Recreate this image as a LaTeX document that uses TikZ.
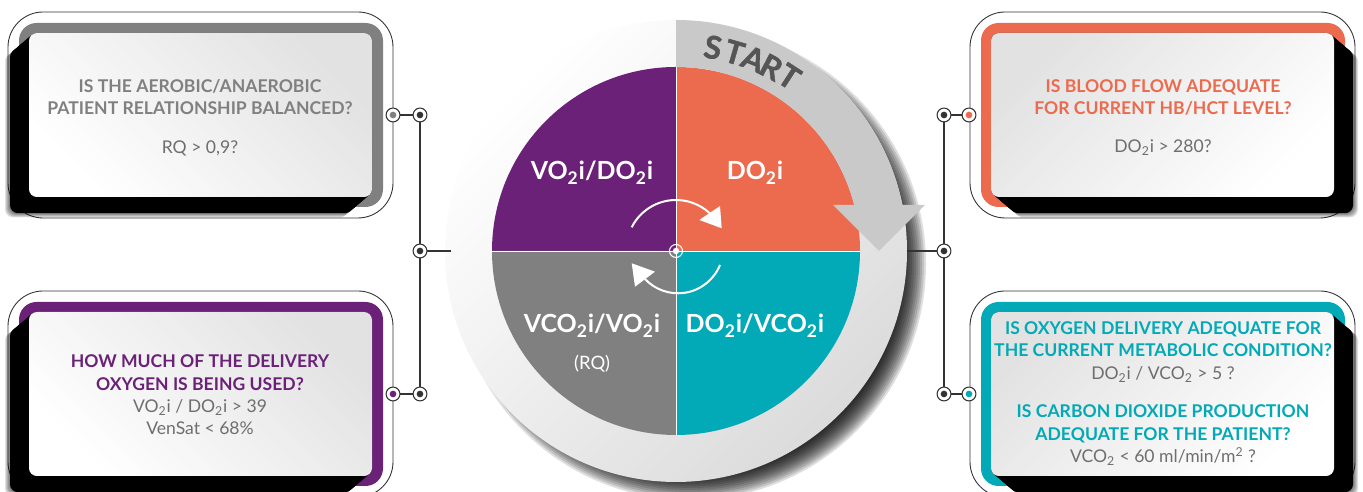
\documentclass[tikz,border=0pt]{standalone}
\usepackage{fontspec}
\setmainfont{Lato}
\usetikzlibrary{arrows.meta}
\definecolor{qpurple}{RGB}{107,33,120}
\definecolor{qorange}{RGB}{236,106,77}
\definecolor{qteal}{RGB}{2,169,182}
\definecolor{qgray}{RGB}{128,128,128}
\definecolor{bandgray}{RGB}{201,201,201}
\definecolor{startgray}{RGB}{85,85,85}
\definecolor{lined}{RGB}{51,51,51}
\definecolor{subgray}{RGB}{110,110,110}
\definecolor{boxshade}{RGB}{226,226,226}
\newcommand\qbox[5]{%
  \fill[white, rounded corners=20pt] (#1,#2) rectangle ++(385,206);
  \draw[lined, line width=0.5pt, rounded corners=20pt] (#1,#2) rectangle ++(385,206);
  \fill[#3, rounded corners=10pt] (#1+11,#2+11) rectangle ++(364,184);
  \foreach \k in {20,...,24} \fill[black, opacity=0.12, rounded corners=4.5pt, shift={(#4*\k,-0.85*\k)}] (#1+21,#2+21) rectangle ++(343,164);
  \foreach \k in {0,...,19} \fill[black, rounded corners=4.5pt, shift={(#4*\k,-0.85*\k)}] (#1+21,#2+21) rectangle ++(343,164);
  \shade[top color=boxshade, bottom color=white, shading angle=#5, rounded corners=4.5pt] (#1+21,#2+21) rectangle ++(343,164);
}
\begin{document}
\begin{tikzpicture}[x=0.02cm, y=0.02cm,
  ttl/.style={font=\fontsize{10}{12}\selectfont\bfseries, anchor=base},
  sub/.style={font=\fontsize{10}{12}\selectfont, anchor=base, text=subgray},
  plab/.style={font=\fontsize{14.2}{16}\selectfont\bfseries, anchor=base, text=white},
  stl/.style={font=\fontsize{18}{20}\selectfont\bfseries\addfontfeatures{FakeBold=1.3}, text=startgray, inner sep=0pt},
  inarc/.style={white, line width=1.15pt},
  dot/.style={circle, draw=lined, fill=white, line width=0.6pt, minimum size=7.9pt, inner sep=0pt,
    path picture={\fill[#1] (path picture bounding box.center) circle (1.9pt);}},
  conn/.style={lined, line width=0.8pt}
]
\useasboundingbox (0,0) rectangle (1363,492);
\clip (0,0) rectangle (1363,492);
\fill[white] (0,0) rectangle (1363,492);

% disc with shadow
\foreach \r in {214,216,...,236} \fill[black, opacity=0.13] (690,228) circle (\r);
\shade[top color=white, bottom color=black!14, shading angle=45] (676,241) circle (231);

\begin{scope}[shift={(676,241)}]
  \fill[qpurple] (0,0) -- (180:184) arc[start angle=180, end angle=90, radius=184] -- cycle;
  \fill[qorange] (0,0) -- (90:184) arc[start angle=90, end angle=0, radius=184] -- cycle;
  \fill[qteal] (0,0) -- (0:184) arc[start angle=0, end angle=-90, radius=184] -- cycle;
  \fill[qgray] (0,0) -- (-90:184) arc[start angle=-90, end angle=-180, radius=184] -- cycle;
  \draw[white, line width=0.4pt] (-184,0) -- (184,0) (0,-184) -- (0,184);
  % START band
  \fill[bandgray] (90:231) arc[start angle=90, end angle=11.5, radius=231] -- (249,46) -- (203,0) -- (157,46)
     -- (14.5:184) arc[start angle=14.5, end angle=90, radius=184] -- cycle;
  \node[stl, rotate=-10.3] (s1) at (79.7:207) {S};
  \node[stl, rotate=-16.2] (s2) at (73.6:207) {T};
  \node[stl, rotate=-22.0] (s3) at (68.0:207) {A};
  \node[stl, rotate=-27.4] (s4) at (62.6:207) {R};
  \node[stl, rotate=-33.0] (s5) at (57.0:208) {T};
  % centre mark
  \draw[white, line width=0.6pt] (0,0) circle (6.5);
  \fill[white] (0,0) circle (3.2);
\end{scope}

% inner cycle arrows
\draw[inarc] (676,242.4) ++(153.3:49.6) arc[start angle=153.3, end angle=47.4, radius=49.6];
\fill[white] (720,286) -- (721.7,263.7) -- (699.3,272) -- cycle;
\draw[inarc] (678,244) ++(-22:45.3) arc[start angle=-22, end angle=-136.6, radius=45.3];
\fill[white] (655,220.3) -- (631.7,228.7) -- (635,205.3) -- cycle;

% quadrant labels
\node[plab] (q1) at (592,312) {VO\textsubscript{2}i/DO\textsubscript{2}i};
\node[plab] (q2) at (755,312) {DO\textsubscript{2}i};
\node[plab] (q3) at (592,159) {VCO\textsubscript{2}i/VO\textsubscript{2}i};
\node[plab, font=\fontsize{10.5}{12}\selectfont] (q3b) at (592,122) {(RQ)};
\node[plab] (q4) at (755,159) {DO\textsubscript{2}i/VCO\textsubscript{2}i};

% boxes
\qbox{8}{274}{qgray}{-1}{-45}
\qbox{8}{-5}{qpurple}{-1}{-45}
\qbox{970}{274}{qorange}{1}{45}
\qbox{970}{-5}{qteal}{1}{45}

% box texts
\node[ttl, text=qgray] (a1) at (200,399) {IS THE AEROBIC/ANAEROBIC};
\node[ttl, text=qgray] (a2) at (200,377) {PATIENT RELATIONSHIP BALANCED?};
\node[sub] (a3) at (200,338) {RQ > 0,9?};

\node[ttl, text=qpurple] (b1) at (200,124) {HOW MUCH OF THE DELIVERY};
\node[ttl, text=qpurple] (b2) at (200,101) {OXYGEN IS BEING USED?};
\node[sub] (b3) at (200,79) {VO\textsubscript{2}i / DO\textsubscript{2}i > 39};
\node[sub] (b4) at (200,57) {VenSat < 68\%};

\node[ttl, text=qorange] (c1) at (1163,399) {IS BLOOD FLOW ADEQUATE};
\node[ttl, text=qorange] (c2) at (1163,377) {FOR CURRENT HB/HCT LEVEL?};
\node[sub] (c3) at (1163,339) {DO\textsubscript{2}i > 280?};

\node[ttl, text=qteal] (d1) at (1163,157) {IS OXYGEN DELIVERY ADEQUATE FOR};
\node[ttl, text=qteal] (d2) at (1163,135) {THE CURRENT METABOLIC CONDITION?};
\node[sub] (d3) at (1163,112) {DO\textsubscript{2}i / VCO\textsubscript{2} > 5 ?};
\node[ttl, text=qteal] (d4) at (1163,74) {IS CARBON DIOXIDE PRODUCTION};
\node[ttl, text=qteal] (d5) at (1163,51) {ADEQUATE FOR THE PATIENT?};
\node[sub] (d6) at (1163,29) {VCO\textsubscript{2} < 60 ml/min/m\textsuperscript{2} ?};

% connectors
\coordinate (lstub) at (451,241);
\coordinate (rstub) at (907,241);
\node[dot=qgray] (L1o) at (393,377) {};
\node[dot=lined] (L1i) at (420,377) {};
\node[dot=lined] (Lm) at (420,241) {};
\node[dot=qpurple] (L2o) at (393,98) {};
\node[dot=lined] (L2i) at (420,98) {};
\node[dot=lined] (R1i) at (944,377) {};
\node[dot=qorange] (R1o) at (969,377) {};
\node[dot=lined] (Rm) at (944,241) {};
\node[dot=lined] (R2i) at (944,98) {};
\node[dot=qteal] (R2o) at (969,98) {};
\draw[conn] (L1o) -- (L1i) (L1i) -- (Lm) (Lm) -- (L2i) (L2o) -- (L2i) (Lm) -- (lstub);
\draw[conn] (R1i) -- (R1o) (R1i) -- (Rm) (Rm) -- (R2i) (R2i) -- (R2o) (Rm) -- (rstub);
\end{tikzpicture}
\end{document}
